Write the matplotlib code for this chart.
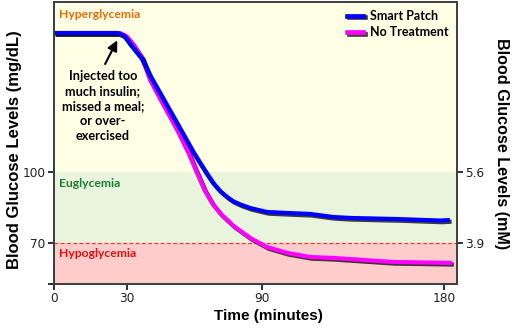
import numpy as np
import matplotlib
matplotlib.use("Agg")
import matplotlib.pyplot as plt
import matplotlib.patheffects as pe
from matplotlib.lines import Line2D

# Glucose readings over time (minutes, mg/dL)
patch_time = [0, 15, 26.3, 28.8, 31.3, 36.7, 40.2, 44.7, 52.3, 59.3, 62.4, 65.5, 68.2,
              71.3, 74.4, 77.1, 80.3, 84.7, 92.5, 102.4, 113.7, 125.1, 133.5, 158.2,
              178.0, 182.9]
patch_glucose = [158.7, 158.7, 158.7, 157.5, 154.1, 147.7, 140.6, 133.1, 120.3, 108.5,
                 103.8, 99.2, 95.4, 92.0, 89.5, 87.7, 86.3, 84.8, 83.1, 82.7, 82.3,
                 81.0, 80.6, 80.1, 79.5, 79.7]

untreated_time = [0, 15, 27.1, 29.6, 32.2, 36.7, 40.2, 44.7, 52.3, 57.3, 60.9, 64.4,
                  68.0, 71.6, 77.3, 84.8, 92.5, 102.4, 113.7, 125.1, 154.8, 184.0]
untreated_glucose = [158.7, 158.7, 158.7, 157.5, 154.5, 148.2, 138.9, 130.9, 117.7,
                     108.0, 100.0, 92.4, 86.5, 82.3, 77.2, 72.1, 68.3, 65.8, 64.1,
                     63.7, 62.0, 61.6]

series_names = ["Smart Patch", "No Treatment"]
series_colors = ["#0000FF", "#FF00FF"]

time_ticks = [0, 30, 90, 180]
mgdl_ticks = [70, 100]
mm_labels = ["3.9", "5.6"]

# Time axis drawn with uneven spacing between the labelled times
_knot_t = np.array([-1000, 0, 30, 90, 180, 1000], dtype=float)
_knot_p = np.array([-2433.3, 0, 73, 208, 390, 390 + 820 * 182 / 90], dtype=float)


def fwd(x):
    return np.interp(np.asarray(x, dtype=float), _knot_t, _knot_p)


def inv(p):
    return np.interp(np.asarray(p, dtype=float), _knot_p, _knot_t)


W, H = 516, 334
fig = plt.figure(figsize=(W / 100, H / 100), dpi=100)
ax_l, ax_r, ax_t, ax_b = 54, 457, 2, 284
ax = fig.add_axes([ax_l / W, 1 - ax_b / H, (ax_r - ax_l) / W, (ax_b - ax_t) / H])

ax.set_xscale("function", functions=(fwd, inv))
ymin, ymax = 52.7, 171.8
ax.set_xlim(0, 186.4)
ax.set_ylim(ymin, ymax)

# Glycemic zones
ax.axhspan(100, ymax, color="#FFFFE6", zorder=0, lw=0)
ax.axhspan(70, 100, color="#E8F4DC", zorder=0, lw=0)
ax.axhspan(ymin, 70, color="#FFCCCC", zorder=0, lw=0)
ax.axhline(70, color="#FF3030", lw=0.9, ls=(0, (3, 2)), zorder=1)

shadow = [pe.SimpleLineShadow(offset=(1.2, -1.2), shadow_color="black", alpha=0.75),
          pe.Normal()]
ax.plot(untreated_time, untreated_glucose, color=series_colors[1], lw=3.0,
        solid_capstyle="butt", solid_joinstyle="round", path_effects=shadow, zorder=3)
ax.plot(patch_time, patch_glucose, color=series_colors[0], lw=3.0,
        solid_capstyle="butt", solid_joinstyle="round", path_effects=shadow, zorder=4)

label_font = "Lato"
ax.text(0.0135, 0.955, "Hyperglycemia", transform=ax.transAxes, color="#E46C0A",
        fontsize=8.7, fontweight="bold", family=label_font, va="center", ha="left")
ax.text(0.0135, 100 - 4.8, "Euglycemia", transform=ax.get_yaxis_transform(),
        color="#1E7B34", fontsize=8.7, fontweight="bold", family=label_font,
        va="center", ha="left")
ax.text(0.0135, 70 - 4.3, "Hypoglycemia", transform=ax.get_yaxis_transform(),
        color="#E01010", fontsize=8.7, fontweight="bold", family=label_font,
        va="center", ha="left")

# Event note with an arrow pointing at the start of the drop
ax.text(20.1, 142.9, "Injected too\nmuch insulin;\nmissed a meal;\nor over-\nexercised",
        ha="center", va="top", fontsize=9.2, fontweight="bold", family=label_font,
        linespacing=1.3)
ax.annotate("", xy=(26.0, 155.6), xytext=(21.0, 145.6),
            arrowprops=dict(arrowstyle="-|>,head_length=0.6,head_width=0.3",
                            color="black", lw=1.5, shrinkA=0, shrinkB=0))

# Spines and ticks
spine_color = "#404040"
for s in ax.spines.values():
    s.set_color(spine_color)
    s.set_linewidth(1.3)
ax.set_xticks(time_ticks)
ax.set_xticklabels([str(t) for t in time_ticks])
ax.set_yticks([ymin] + mgdl_ticks)
ax.set_yticklabels([""] + [str(v) for v in mgdl_ticks])
ax.tick_params(axis="both", direction="out", length=4, width=1.3, color="#202020",
               labelsize=8.7, labelcolor="#202020", pad=2)
ax.minorticks_off()

ax2 = ax.twinx()
ax2.set_ylim(ymin, ymax)
ax2.set_yticks(mgdl_ticks)
ax2.set_yticklabels(mm_labels)
ax2.tick_params(axis="y", direction="out", length=4, width=1.3, color="#202020",
                labelsize=8.7, labelcolor="#202020", pad=2)
for s in ax2.spines.values():
    s.set_color(spine_color)
    s.set_linewidth(1.3)

axis_font = "Liberation Sans"
fig.text(268 / W, 1 - 316 / H, "Time (minutes)", ha="center", va="center",
         fontsize=11, fontweight="bold", family=axis_font)
fig.text(15 / W, 1 - 150 / H, "Blood Glucose Levels (mg/dL)", ha="center", va="center",
         rotation=90, fontsize=12, fontweight="bold", family=axis_font)
fig.text(502 / W, 1 - 144 / H, "Blood Glucose Levels (mM)", ha="center", va="center",
         rotation=-90, fontsize=11.6, fontweight="bold", family=axis_font)

handles = [Line2D([], [], color=c, lw=3.4, path_effects=shadow) for c in series_colors]
leg = ax.legend(handles, series_names, loc="upper right", frameon=False,
                handlelength=1.3, handletextpad=0.55, labelspacing=0.35,
                borderaxespad=0.25, prop=dict(family=label_font, weight="bold", size=9))

fig.savefig("out.png", dpi=100)
